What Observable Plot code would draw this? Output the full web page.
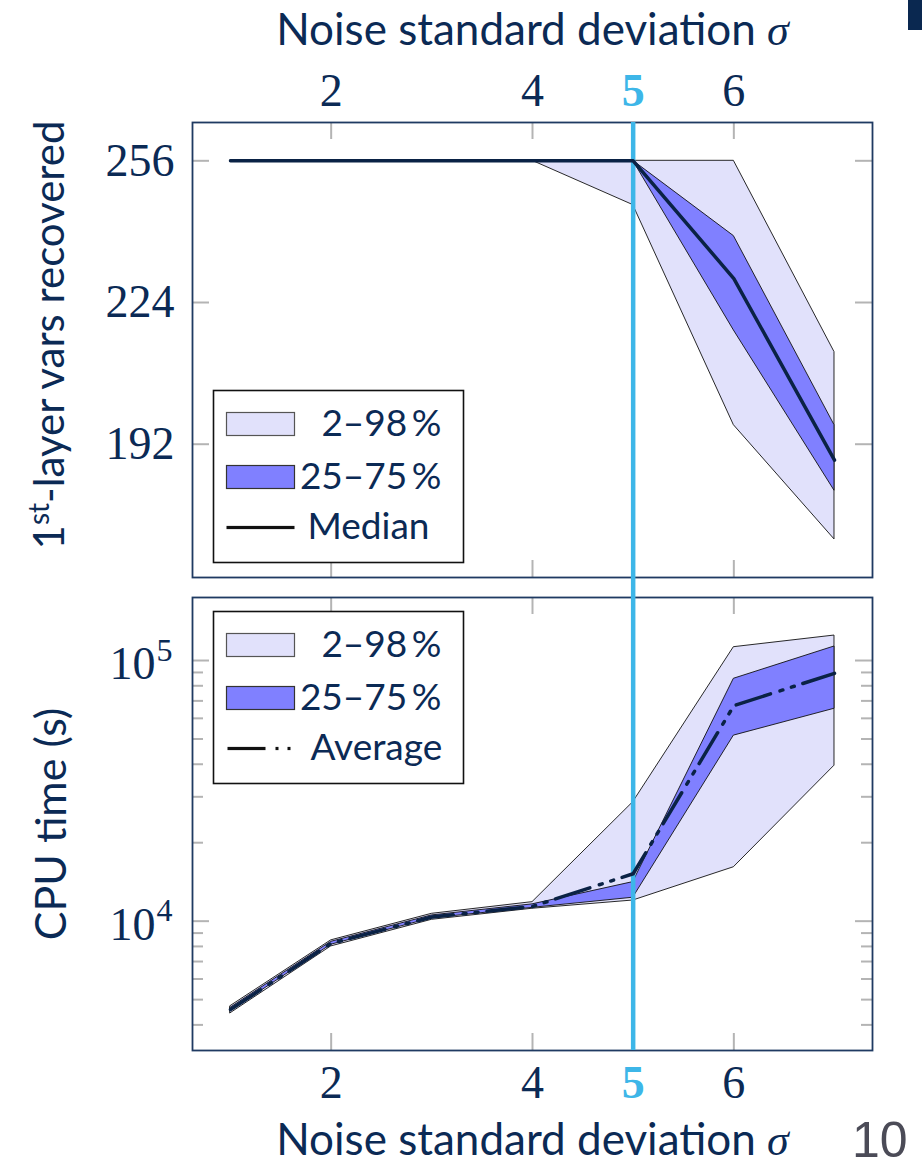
<!DOCTYPE html>
<html><head><meta charset="utf-8">
<script src="https://cdn.jsdelivr.net/npm/d3@7"></script>
<script src="https://cdn.jsdelivr.net/npm/@observablehq/plot@0.6"></script>
<style>
body{margin:0;background:#fff;}
#wrap{position:relative;width:922px;height:1167px;overflow:hidden;background:#fff}
#topPanel{position:absolute;left:0;top:0}
#botPanel{position:absolute;left:0;top:590px}
#corner{position:absolute;left:908px;top:0;width:14px;height:30px;background:#0a2850}
svg{overflow:visible}
</style></head><body>
<div id="wrap"><div id="topPanel"></div><div id="botPanel"></div><div id="corner"></div></div>
<script>
// ---- data ----
const sigma = [1, 2, 3, 4, 5, 6, 7];
// 1st-layer vars recovered
const recP2  = [256, 256, 256, 256, 246, 196.3, 170.5];
const recP25 = [256, 256, 256, 256, 256, 217.7, 181.5];
const recMed = [256, 256, 256, 256, 256, 229.4, 188.4];
const recP75 = [256, 256, 256, 256, 256, 239.0, 196.3];
const recP98 = [256, 256, 256, 256, 256, 256, 212.8];
// CPU time (s)
const cpuP2  = [4430, 8000, 10120, 11160, 12000, 16100, 39500];
const cpuP25 = [4520, 8120, 10250, 11250, 12300, 51500, 65300];
const cpuAvg = [4580, 8220, 10370, 11390, 15200, 67100, 89300];
const cpuP75 = [4650, 8330, 10520, 11600, 14120, 85100, 113200];
const cpuP98 = [4720, 8440, 10670, 11830, 28600, 112500, 124700];

const xTickLabels = [2, 4, 6];
const xHighlight = [5];
const xTicks = [2, 4, 5, 6];
const recTicks = [256, 224, 192];
const cpuTicks = [1e4, 1e5];
const cpuExp = ["4", "5"];
const cpuMinor = [4e3, 5e3, 6e3, 7e3, 8e3, 9e3, 2e4, 3e4, 4e4, 5e4, 6e4, 7e4, 8e4, 9e4];
const legendTop = ["2–98\u2009%", "25–75\u2009%", "Median"];
const legendBot = ["2–98\u2009%", "25–75\u2009%", "Average"];
const xTitle = "Noise standard deviation σ";

const recRows = sigma.map((s, i) => ({s, p2: recP2[i], p25: recP25[i], med: recMed[i], p75: recP75[i], p98: recP98[i]}));
const cpuRows = sigma.map((s, i) => ({s, p2: cpuP2[i], p25: cpuP25[i], avg: cpuAvg[i], p75: cpuP75[i], p98: cpuP98[i]}));

// ---- style ----
const navy = "#0b2a55", frameC = "#1f3a62", gray = "#b4b4b4", blue = "#3db6e8";
const light = "#e1e1fb", mid = "#8080ff";
const sans = "Lato, 'Open Sans', sans-serif", serif = "'Liberation Serif', serif";
const W = 680; // plot area width
const xDomain = [0.6225, 7.3775];
const LA = "middle";
const LF = 37; // legend font size

function ticksX(H) {
  return [
    Plot.tickX(xTicks, {x: d => d, stroke: gray, strokeWidth: 2, insetBottom: H - 17}),
    Plot.tickX(xTicks, {x: d => d, stroke: gray, strokeWidth: 2, insetTop: H - 17})
  ];
}
function ticksY(t, len) {
  return [
    Plot.tickY(t, {y: d => d, stroke: gray, strokeWidth: 2, insetRight: W - len}),
    Plot.tickY(t, {y: d => d, stroke: gray, strokeWidth: 2, insetLeft: W - len})
  ];
}
function legend(labels, top, line) {
  const H = line.H;
  const m = [
    Plot.frame({fill: "white", stroke: "#111", strokeWidth: 1.6, insetLeft: 21, insetRight: 409, insetTop: top, insetBottom: H - top - 172}),
    Plot.frame({fill: light, stroke: "#555", strokeWidth: 1.2, insetLeft: 34, insetRight: 578, insetTop: top + 22, insetBottom: H - top - 45}),
    Plot.frame({fill: mid, stroke: "#333", strokeWidth: 1.2, insetLeft: 34, insetRight: 578, insetTop: top + 75, insetBottom: H - top - 98}),
    Plot.text([labels[0]], {text: d => d, frameAnchor: "top-left", lineAnchor: LA, dx: 249, dy: top + 34, textAnchor: "end", fontSize: LF, fill: navy, fontFamily: sans}),
    Plot.text([labels[1]], {text: d => d, frameAnchor: "top-left", lineAnchor: LA, dx: 249, dy: top + 87, textAnchor: "end", fontSize: LF, fill: navy, fontFamily: sans}),
    Plot.text([labels[2]], {text: d => d, frameAnchor: "top-left", lineAnchor: LA, dx: line.tx, dy: top + 137, textAnchor: "start", fontSize: LF, fill: navy, fontFamily: sans})
  ];
  const ly = top + 137;
  for (const [a, b] of line.segs) {
    m.push(Plot.frame({fill: "#111", stroke: "none", insetLeft: a - 192, insetRight: 872 - b, insetTop: ly - 1.6, insetBottom: H - ly - 1.6}));
  }
  return m;
}

// ---- top panel ----
const H1 = 455;
const topChart = Plot.plot({
  width: 922, height: 590,
  marginTop: 122, marginBottom: 13, marginLeft: 192, marginRight: 50,
  x: {domain: xDomain, axis: null},
  y: {domain: [161.9, 264.65], axis: null},
  style: {fontFamily: sans, color: navy, background: "transparent"},
  marks: [
    Plot.areaY(recRows, {x: "s", y1: "p2", y2: "p98", fill: light, stroke: "#111", strokeWidth: 0.9}),
    Plot.areaY(recRows, {x: "s", y1: "p25", y2: "p75", fill: mid, stroke: "#111", strokeWidth: 0.9}),
    ...ticksX(H1),
    ...ticksY(recTicks, 17),
    Plot.frame({stroke: frameC, strokeWidth: 1.8}),
    Plot.ruleX(xHighlight, {x: d => d, stroke: blue, strokeWidth: 4.5, insetBottom: -13}),
    Plot.line(recRows, {x: "s", y: "med", stroke: "#0a2245", strokeWidth: 3.5}),
    Plot.text(xTickLabels, {x: d => d, text: d => String(d), frameAnchor: "top", lineAnchor: LA, dy: -31, fontSize: 46, fontFamily: serif, fill: navy}),
    Plot.text(xHighlight, {x: d => d, text: d => String(d), frameAnchor: "top", lineAnchor: LA, dy: -31, fontSize: 46, fontFamily: serif, fontWeight: "bold", fill: blue}),
    Plot.text(recTicks, {y: d => d, text: d => String(d), frameAnchor: "left", lineAnchor: LA, dx: -18, textAnchor: "end", fontSize: 46, fontFamily: serif, fill: navy}),
    Plot.text([xTitle], {text: d => d, frameAnchor: "top", lineAnchor: LA, dy: -92, fontSize: 44, fill: navy}),
    Plot.text(["1st-layer vars recovered"], {text: d => d, frameAnchor: "left", lineAnchor: LA, textAnchor: "middle", dx: -142, dy: -15, rotate: -90, fontSize: 42, fill: navy}),
    ...legend(legendTop, 268, {H: H1, tx: 115, segs: [[226, 294]]})
  ]
});
document.getElementById("topPanel").appendChild(topChart);

// ---- bottom panel ----
const H2 = 453;
const botChart = Plot.plot({
  width: 922, height: 577,
  marginTop: 7, marginBottom: 117, marginLeft: 192, marginRight: 50,
  x: {domain: xDomain, axis: null},
  y: {type: "log", domain: [3190, 174500], axis: null},
  style: {fontFamily: sans, color: navy, background: "transparent"},
  marks: [
    Plot.areaY(cpuRows, {x: "s", y1: "p2", y2: "p98", fill: light, stroke: "#111", strokeWidth: 0.9}),
    Plot.areaY(cpuRows, {x: "s", y1: "p25", y2: "p75", fill: mid, stroke: "#111", strokeWidth: 0.9}),
    ...ticksX(H2),
    ...ticksY(cpuTicks, 17),
    ...ticksY(cpuMinor, 11),
    Plot.frame({stroke: frameC, strokeWidth: 1.8}),
    Plot.ruleX(xHighlight, {x: d => d, stroke: blue, strokeWidth: 4.5, insetTop: -7}),
    Plot.line(cpuRows, {x: "s", y: "avg", stroke: "#0a2245", strokeWidth: 3.5, strokeDasharray: "36,10,3,9,3,9"}),
    Plot.text(xTickLabels, {x: d => d, text: d => String(d), frameAnchor: "bottom", lineAnchor: LA, dy: 33, fontSize: 46, fontFamily: serif, fill: navy}),
    Plot.text(xHighlight, {x: d => d, text: d => String(d), frameAnchor: "bottom", lineAnchor: LA, dy: 33, fontSize: 46, fontFamily: serif, fontWeight: "bold", fill: blue}),
    Plot.text(cpuTicks, {y: d => d, text: () => "10", frameAnchor: "left", lineAnchor: LA, dx: -37, dy: 4, textAnchor: "end", fontSize: 46, fontFamily: serif, fill: navy}),
    Plot.text(cpuTicks, {y: d => d, text: (d, i) => cpuExp[i], frameAnchor: "left", lineAnchor: LA, dx: -36, dy: -10, textAnchor: "start", fontSize: 32, fontFamily: serif, fill: navy}),
    Plot.text([xTitle], {text: d => d, frameAnchor: "bottom", lineAnchor: LA, dy: 90, fontSize: 44, fill: navy}),
    Plot.text(["CPU time (s)"], {text: d => d, frameAnchor: "left", lineAnchor: LA, textAnchor: "middle", dx: -140, rotate: -90, fontSize: 43, fill: navy}),
    Plot.text(["10"], {text: d => d, frameAnchor: "bottom-right", lineAnchor: LA, dx: 35, dy: 90, textAnchor: "end", fontSize: 50, fontFamily: "'Liberation Sans', sans-serif", fill: "#4b4b57"}),
    ...legend(legendBot, 14, {H: H2, tx: 118, segs: [[227, 265], [275, 278], [287, 290]]})
  ]
});
document.getElementById("botPanel").appendChild(botChart);

// rich text touch-ups (superscript and italic sigma)
for (const svg of [topChart, botChart]) {
  for (const t of svg.querySelectorAll("text")) {
    if (t.textContent === xTitle) {
      t.innerHTML = 'Noise standard deviation <tspan font-family="Liberation Serif" font-style="italic">σ</tspan>';
    } else if (t.textContent === "1st-layer vars recovered") {
      t.innerHTML = '1<tspan dy="-15" font-size="28">st</tspan><tspan dy="15">-layer vars recovered</tspan>';
    }
  }
}
</script>
</body></html>
